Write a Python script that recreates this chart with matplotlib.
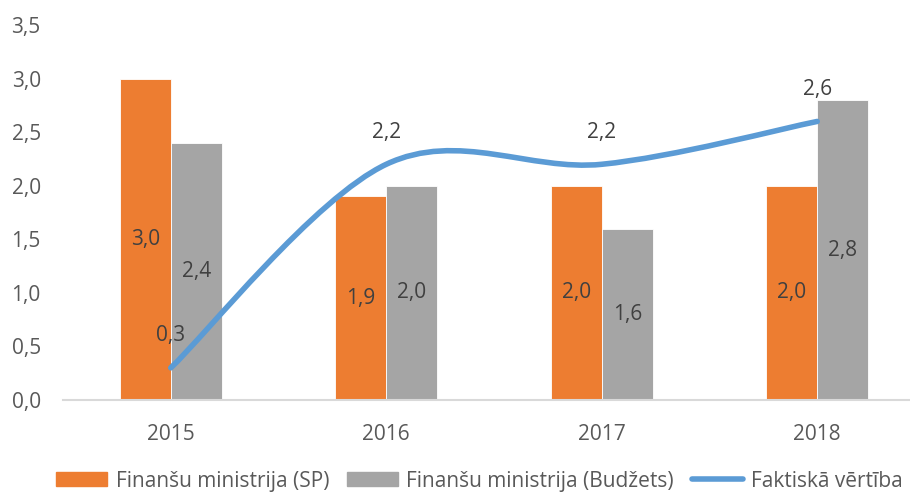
import numpy as np
import matplotlib.pyplot as plt
from matplotlib.path import Path
from matplotlib.patches import PathPatch
from matplotlib.lines import Line2D
from matplotlib.patches import Patch

plt.rcParams['font.family'] = ['Open Sans', 'DejaVu Sans']

# data
years = ['2015', '2016', '2017', '2018']
fm_sp = [3.0, 1.9, 2.0, 2.0]
fm_budzets = [2.4, 2.0, 1.6, 2.8]
faktiska = [0.3, 2.2, 2.2, 2.6]
labels = ['Finanšu ministrija (SP)', 'Finanšu ministrija (Budžets)', 'Faktiskā vērtība']

c_orange = '#ED7D31'
c_gray = '#A5A5A5'
c_blue = '#5B9BD5'
c_text = '#595959'
c_lab = '#404040'
fs = 15

W, H = 910, 494
fig = plt.figure(figsize=(W / 100, H / 100), dpi=100)
left, right, bottom, top = 63, 925, 400, 25
ax = fig.add_axes([left / W, 1 - bottom / H, (right - left) / W, (bottom - top) / H])

x = np.arange(len(years))
bw = 0.237
ax.bar(x - bw / 2, fm_sp, bw, color=c_orange, edgecolor='white', linewidth=0.6)
ax.bar(x + bw / 2, fm_budzets, bw, color=c_gray, edgecolor='white', linewidth=0.6)


def fmt(v):
    return f'{v:.1f}'.replace('.', ',')


for xi, v in zip(x, fm_sp):
    ax.text(xi - bw / 2, v / 2, fmt(v), ha='center', va='center', fontsize=fs, color=c_lab)
for xi, v in zip(x, fm_budzets):
    ax.text(xi + bw / 2, v / 2, fmt(v), ha='center', va='center', fontsize=fs, color=c_lab)

# smoothed line (bezier, excel-like)
pts = np.column_stack([x, faktiska]).astype(float)
ext = np.vstack([pts[0], pts, pts[-1]])
verts = [tuple(pts[0])]
codes = [Path.MOVETO]
for i in range(len(pts) - 1):
    p0, p1, p2, p3 = ext[i], ext[i + 1], ext[i + 2], ext[i + 3]
    c1 = p1 + (p2 - p0) / 6
    c2 = p2 - (p3 - p1) / 6
    verts += [tuple(c1), tuple(c2), tuple(p2)]
    codes += [Path.CURVE4] * 3
ax.add_patch(PathPatch(Path(verts, codes), facecolor='none', edgecolor=c_blue,
                       linewidth=4, capstyle='round', zorder=3))

for xi, v in zip(x, faktiska):
    ax.annotate(fmt(v), (xi, v), xytext=(0, 23), textcoords='offset points',
                ha='center', va='center', fontsize=fs, color=c_lab)

ax.set_xlim(-0.5, 3.5)
ax.set_ylim(0, 3.5)
yt = np.arange(0, 3.51, 0.5)
ax.set_yticks(yt)
ax.set_yticklabels([fmt(v) for v in yt])
ax.set_xticks(x)
ax.set_xticklabels(years)
ax.tick_params(length=0, labelsize=fs, colors=c_text)
ax.tick_params(axis='x', pad=17)
ax.tick_params(axis='y', pad=16)
for s in ['top', 'right', 'left']:
    ax.spines[s].set_visible(False)
ax.spines['bottom'].set_color('#D9D9D9')
ax.spines['bottom'].set_linewidth(1.5)

handles = [Patch(color=c_orange), Patch(color=c_gray),
           Line2D([], [], color=c_blue, linewidth=4, solid_capstyle='round')]
fig.legend(handles, labels, loc='center', bbox_to_anchor=(0.527, 1 - 481 / H), ncol=3,
           frameon=False, fontsize=fs, labelcolor=c_text, handlelength=2.45,
           handleheight=0.68, handletextpad=0.4, columnspacing=0.85,
           borderaxespad=0, borderpad=0)

fig.savefig('out.png', dpi=100)
